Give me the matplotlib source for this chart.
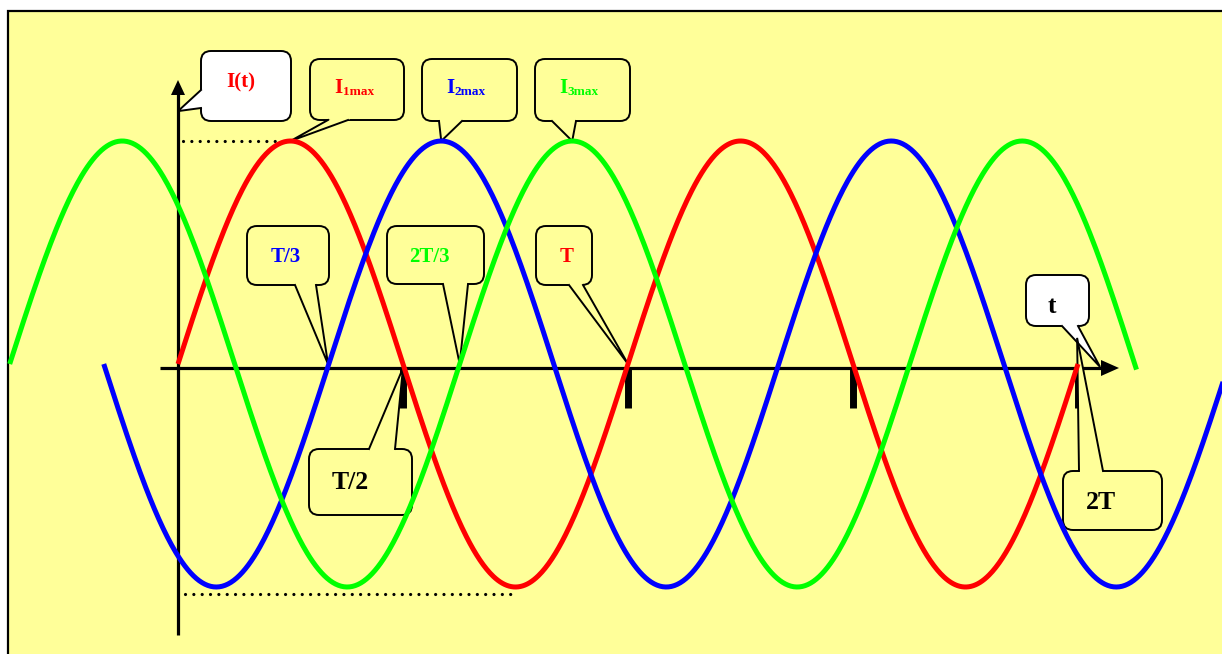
import numpy as np
import matplotlib
matplotlib.use("Agg")
import matplotlib.pyplot as plt
from matplotlib.patches import FancyBboxPatch, Polygon, Rectangle
from matplotlib.transforms import Affine2D, blended_transform_factory

# ---------------- data ----------------
series_names = ["I1", "I2", "I3"]
series_colors = ["#FF0000", "#0000FF", "#00FF00"]
series_phase = [0.0, 0.335, 0.626]      # lag in periods T
series_start = [0.0, -0.165, -0.374]    # in periods T
series_end = [2.0, 2.40, 2.13]
amplitude = 1.0
period = 1.0

tick_positions = [0.5, 1.0, 1.5, 2.0]   # T/2, T, 3T/2, 2T

dot_top_level = 1.0
dot_top_span = [0.01, 0.24]
dot_bottom_level = -1.03
dot_bottom_span = [0.015, 0.755]

# callout labels: (main text, subscript, colour, tip t, tip y)
label_main = ["I(t)", "I", "I", "I", "T/3", "2T/3", "T", "T/2", "t", "2T"]
label_sub = ["", "1max", "2max", "3max", "", "", "", "", "", ""]
label_color = ["#FF0000", "#FF0000", "#0000FF", "#00FF00", "#0000FF",
               "#00FF00", "#FF0000", "black", "black", "black"]
label_tip_t = [0.0, 0.25, 0.585, 0.876, 1/3, 0.626, 1.0, 0.5, 2.049, 1.998]
label_tip_y = [1.134, 1.0, 1.0, 1.0, 0.0, 0.0, 0.0, -0.018, -0.013, 0.117]

# ---------------- layout (pixels from top-left) ----------------
W, H, DPI = 1222, 654, 100
X0, PXT, Y0, PXA = 178, 450, 364, 223

boxes = [(201, 51, 291, 121), (310, 59, 404, 120), (422, 59, 517, 121),
         (535, 59, 630, 121), (247, 226, 329, 285), (387, 226, 484, 284),
         (536, 226, 592, 285), (309, 449, 412, 515), (1026, 275, 1089, 326),
         (1063, 471, 1162, 530)]
bases = [((201, 90), (201, 108)), ((328, 120), (348, 120)), ((439, 121), (462, 121)),
         ((552, 121), (576, 121)), ((295, 285), (316, 285)), ((443, 284), (468, 284)),
         ((569, 285), (583, 285)), ((369, 449), (395, 449)), ((1062, 326), (1078, 326)),
         ((1079, 471), (1103, 471))]
faces = ["white"] + ["#FFFF99"] * 7 + ["white", "#FFFF99"]
text_pos = [(226, 87), (334, 93), (446, 93), (559, 93), (271, 262), (409, 262),
            (560, 262), (332, 489), (1048, 313), (1086, 509)]
text_size = [15, 15, 15, 15, 15, 15, 15, 18.5, 18.5, 18.5]

fig = plt.figure(figsize=(W / DPI, H / DPI), dpi=DPI, facecolor="white")
ax = fig.add_axes([0, 0, 1, 1])
ax.set_axis_off()
ax.set_xlim(-X0 / PXT, (W - X0) / PXT)
ax.set_ylim(-(H - Y0) / PXA, Y0 / PXA)

PX = Affine2D().scale(1, -1).translate(0, H)           # pixel-from-top -> display
XPX = blended_transform_factory(ax.transData, PX)       # x data, y pixels

def to_px(t, y):
    return X0 + PXT * t, Y0 - PXA * y

# background panel
ax.add_patch(Rectangle((8, 11), W + 20, H + 20, fc="#FFFF99", ec="black",
                       lw=1.6, transform=PX, zorder=0))

# axes with arrows
ax.plot([160, 1104], [368, 368], color="black", lw=2.3, transform=PX, zorder=1,
        solid_capstyle="butt")
ax.add_patch(Polygon([(1101, 360), (1119, 368), (1101, 376)], closed=True,
                     fc="black", ec="none", transform=PX, zorder=1))
ax.plot([178, 178], [635, 92], color="black", lw=2.3, transform=PX, zorder=1,
        solid_capstyle="butt")
ax.add_patch(Polygon([(171, 95), (178, 80), (185, 95)], closed=True,
                     fc="black", ec="none", transform=PX, zorder=1))

# ticks
for tp in tick_positions:
    ax.plot([tp, tp], [368, 408], color="black", lw=5, solid_capstyle="butt",
            transform=XPX, zorder=1)

# dotted guide lines
ax.plot(dot_top_span, [dot_top_level] * 2, color="black", lw=2.3,
        linestyle=(0, (0.01, 2.6)), dash_capstyle="round", zorder=1)
ax.plot(dot_bottom_span, [dot_bottom_level] * 2, color="black", lw=2.3,
        linestyle=(0, (0.01, 2.6)), dash_capstyle="round", zorder=1)

# callouts
for i in range(len(label_main)):
    x0, y0, x1, y1 = boxes[i]
    ax.add_patch(FancyBboxPatch((x0, y0), x1 - x0, y1 - y0,
                                boxstyle="round,pad=0,rounding_size=10",
                                fc=faces[i], ec="black", lw=1.4, transform=PX,
                                zorder=2))
    tip = to_px(label_tip_t[i], label_tip_y[i])
    b1, b2 = np.array(bases[i], float)
    mid = (b1 + b2) / 2
    d = mid - np.array(tip)
    d = d / np.hypot(*d) * 4
    ax.add_patch(Polygon([b1 + d, b1, tip, b2, b2 + d], closed=True,
                         fc=faces[i], ec="none", transform=PX, zorder=2.5))
    ax.plot([b1[0], tip[0], b2[0]], [b1[1], tip[1], b2[1]], color="black",
            lw=1.4, transform=PX, zorder=2.6, solid_joinstyle="miter")
    tx, ty = text_pos[i]
    ax.text(tx, ty, label_main[i], color=label_color[i],
            fontsize=text_size[i], family="Liberation Serif",
            fontweight="bold", ha="left", va="baseline", transform=PX,
            zorder=4)
    if label_sub[i]:
        ax.text(tx + 8.5, ty + 2, label_sub[i], color=label_color[i], fontsize=9.5,
                family="Liberation Serif", fontweight="bold", ha="left",
                va="baseline", transform=PX, zorder=4)

# sine curves
for name, c, ph, s, e in zip(series_names, series_colors, series_phase,
                             series_start, series_end):
    t = np.linspace(s, e, 800)
    y = amplitude * np.sin(2 * np.pi * (t - ph) / period)
    ax.plot(t, y, color=c, lw=3.6, solid_capstyle="butt", zorder=5)

fig.savefig("out.png", dpi=DPI, facecolor="white")
